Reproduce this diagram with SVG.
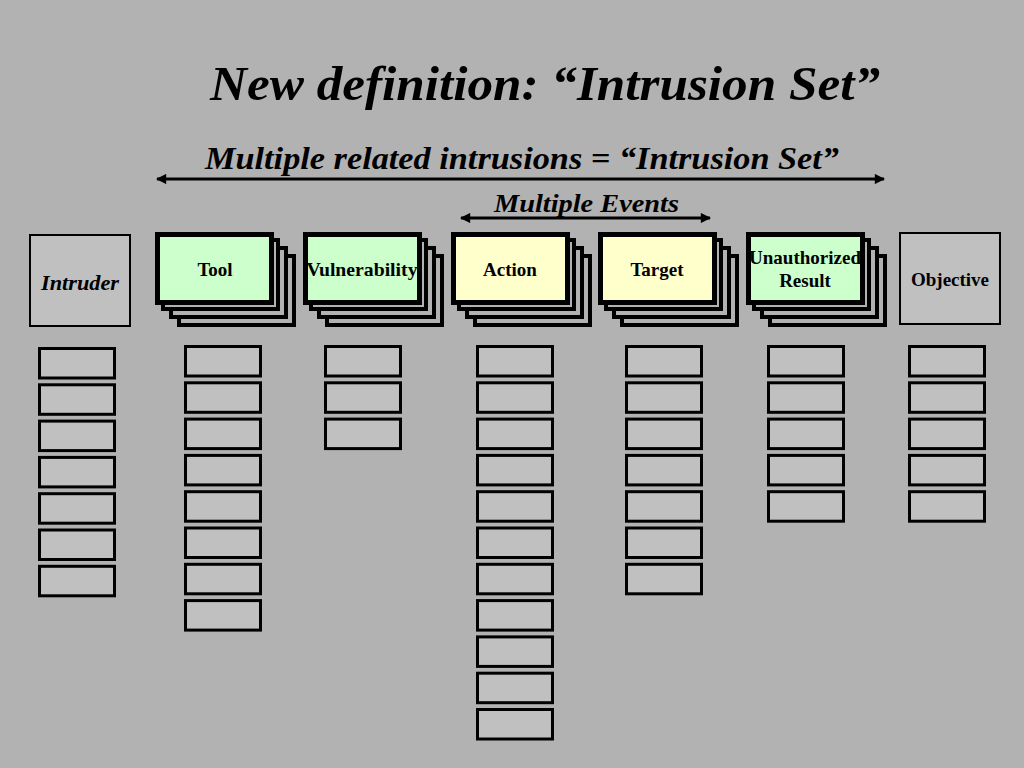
<svg xmlns="http://www.w3.org/2000/svg" width="1024" height="768" viewBox="0 0 1024 768">
<defs>
<style>
.bg{fill:#b2b2b2}
.t{font-family:"Liberation Serif","Times New Roman",serif;font-weight:bold;fill:#000}
.it{font-style:italic}
.lbl{font-size:19px;text-anchor:middle}
.back{fill:#b2b2b2;stroke:#000;stroke-width:4}
.fg{fill:#ccffcc;stroke:#000;stroke-width:5}
.fy{fill:#ffffcc;stroke:#000;stroke-width:5}
.plain{fill:#c0c0c0;stroke:#000;stroke-width:2}
.cell{fill:#c0c0c0;stroke:#000;stroke-width:3}
.arr{stroke:#000;stroke-width:3;fill:none;marker-start:url(#ah);marker-end:url(#ah)}
</style>
<marker id="ah" viewBox="0 0 10 10" refX="9" refY="5" markerWidth="4" markerHeight="3.4" orient="auto-start-reverse" markerUnits="strokeWidth">
<path d="M0,0 L10,5 L0,10 Z" fill="#000"/>
</marker>
<rect id="cell" class="cell" width="75" height="29.5"/>
<g id="stackback">
<rect class="back" x="24" y="24" width="115" height="69"/>
<rect class="back" x="16" y="16" width="115" height="69"/>
<rect class="back" x="8" y="8" width="115" height="69"/>
</g>
</defs>
<rect class="bg" x="0" y="0" width="1024" height="768"/>

<g id="title">
<text class="t it" x="210" y="100" font-size="49" textLength="670" lengthAdjust="spacingAndGlyphs">New definition: “Intrusion Set”</text>
</g>
<g id="subtitle">
<text class="t it" x="205" y="169" font-size="32" textLength="634" lengthAdjust="spacingAndGlyphs">Multiple related intrusions = “Intrusion Set”</text>
</g>
<g id="events-label">
<text class="t it" x="494" y="212" font-size="25" textLength="185" lengthAdjust="spacingAndGlyphs">Multiple Events</text>
</g>

<g id="connectors">
<line class="arr" x1="157" y1="179" x2="884" y2="179"/>
<line class="arr" x1="461" y1="218" x2="710" y2="218"/>
</g>

<g id="intruder">
<rect class="plain" x="30" y="235" width="100" height="91"/>
<text class="t it" x="80" y="290" font-size="20" text-anchor="middle" textLength="78" lengthAdjust="spacingAndGlyphs">Intruder</text>
</g>

<g id="tool">
<use href="#stackback" x="155" y="232"/>
<rect class="fg" x="157.5" y="234.5" width="114" height="68"/>
<text class="t lbl" x="215" y="276">Tool</text>
</g>

<g id="vulnerability">
<use href="#stackback" x="303" y="232"/>
<rect class="fg" x="305.5" y="234.5" width="114" height="68"/>
<text class="t lbl" x="362" y="276" textLength="111" lengthAdjust="spacingAndGlyphs">Vulnerability</text>
</g>

<g id="action">
<use href="#stackback" x="451" y="232"/>
<rect class="fy" x="453.5" y="234.5" width="114" height="68"/>
<text class="t lbl" x="510" y="276">Action</text>
</g>

<g id="target">
<use href="#stackback" x="598" y="232"/>
<rect class="fy" x="600.5" y="234.5" width="114" height="68"/>
<text class="t lbl" x="657" y="276">Target</text>
</g>

<g id="unauthorized-result">
<use href="#stackback" x="746" y="232"/>
<rect class="fg" x="748.5" y="234.5" width="114" height="68"/>
<text class="t lbl" x="805" y="264" textLength="112" lengthAdjust="spacingAndGlyphs">Unauthorized</text>
<text class="t lbl" x="805" y="287">Result</text>
</g>

<g id="objective">
<rect class="plain" x="900" y="233" width="100" height="91"/>
<text class="t lbl" x="950" y="286">Objective</text>
</g>

<g id="intruder-cells">
<use href="#cell" x="39.5" y="348.5"/>
<use href="#cell" x="39.5" y="384.8"/>
<use href="#cell" x="39.5" y="421.1"/>
<use href="#cell" x="39.5" y="457.4"/>
<use href="#cell" x="39.5" y="493.7"/>
<use href="#cell" x="39.5" y="530"/>
<use href="#cell" x="39.5" y="566.3"/>
</g>

<g id="tool-cells">
<use href="#cell" x="185.5" y="346.5"/>
<use href="#cell" x="185.5" y="382.8"/>
<use href="#cell" x="185.5" y="419.1"/>
<use href="#cell" x="185.5" y="455.4"/>
<use href="#cell" x="185.5" y="491.7"/>
<use href="#cell" x="185.5" y="528"/>
<use href="#cell" x="185.5" y="564.3"/>
<use href="#cell" x="185.5" y="600.6"/>
</g>

<g id="vulnerability-cells">
<use href="#cell" x="325.5" y="346.5"/>
<use href="#cell" x="325.5" y="382.8"/>
<use href="#cell" x="325.5" y="419.1"/>
</g>

<g id="action-cells">
<use href="#cell" x="477.5" y="346.5"/>
<use href="#cell" x="477.5" y="382.8"/>
<use href="#cell" x="477.5" y="419.1"/>
<use href="#cell" x="477.5" y="455.4"/>
<use href="#cell" x="477.5" y="491.7"/>
<use href="#cell" x="477.5" y="528"/>
<use href="#cell" x="477.5" y="564.3"/>
<use href="#cell" x="477.5" y="600.6"/>
<use href="#cell" x="477.5" y="636.9"/>
<use href="#cell" x="477.5" y="673.2"/>
<use href="#cell" x="477.5" y="709.5"/>
</g>

<g id="target-cells">
<use href="#cell" x="626.5" y="346.5"/>
<use href="#cell" x="626.5" y="382.8"/>
<use href="#cell" x="626.5" y="419.1"/>
<use href="#cell" x="626.5" y="455.4"/>
<use href="#cell" x="626.5" y="491.7"/>
<use href="#cell" x="626.5" y="528"/>
<use href="#cell" x="626.5" y="564.3"/>
</g>

<g id="result-cells">
<use href="#cell" x="768.5" y="346.5"/>
<use href="#cell" x="768.5" y="382.8"/>
<use href="#cell" x="768.5" y="419.1"/>
<use href="#cell" x="768.5" y="455.4"/>
<use href="#cell" x="768.5" y="491.7"/>
</g>

<g id="objective-cells">
<use href="#cell" x="909.5" y="346.5"/>
<use href="#cell" x="909.5" y="382.8"/>
<use href="#cell" x="909.5" y="419.1"/>
<use href="#cell" x="909.5" y="455.4"/>
<use href="#cell" x="909.5" y="491.7"/>
</g>
</svg>
